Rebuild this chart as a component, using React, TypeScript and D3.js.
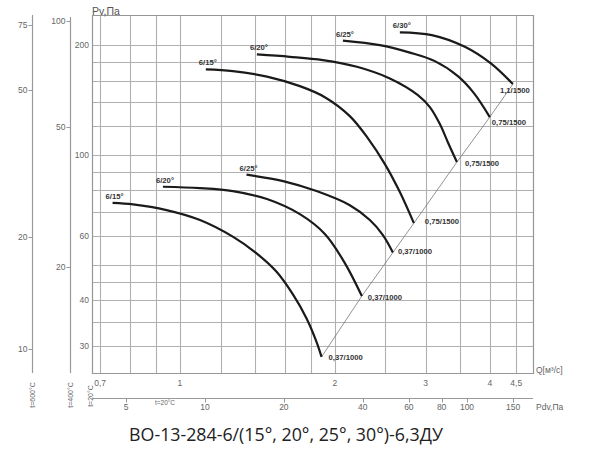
import React from 'react';
import * as d3 from 'd3';

// ---- tick values ----
const qTickLabels = [0.7, 1, 2, 3, 4, 4.5];
const qGrid = [0.7, 0.8, 0.9, 1, 1.2, 1.4, 1.6, 1.8, 2, 2.5, 3, 3.5, 4, 4.5];
const pvTickLabels = [30, 40, 60, 100, 200];
const pvGrid = [30, 35, 40, 45, 50, 60, 70, 80, 90, 100, 120, 140, 160, 180, 200];
const t600Ticks = [10, 20, 50, 75];
const t400Ticks = [20, 50, 100];
const pdvTicks = [5, 10, 20, 40, 60, 80, 100, 150];

// ---- curves: Q (m3/s) and Pv (Pa) ----
const q15_1000 = [0.74, 0.811, 0.942, 1.094, 1.269, 1.409, 1.541, 1.66, 1.762, 1.842, 1.884];
const pv15_1000 = [74.0, 73.3, 70.7, 66.4, 59.7, 53.8, 47.9, 41.4, 35.7, 30.8, 28.0];
const q20_1000 = [0.927, 1.094, 1.267, 1.476, 1.71, 1.912, 2.091, 2.256];
const pv20_1000 = [81.9, 81.2, 79.7, 75.8, 68.9, 60.8, 50.6, 41.1];
const q25_1000 = [1.347, 1.587, 1.842, 2.138, 2.338, 2.479, 2.592];
const pv25_1000 = [88.4, 84.9, 79.7, 72.9, 66.4, 60.4, 54.1];
const q15_1500 = [1.123, 1.267, 1.476, 1.71, 1.912, 2.138, 2.317, 2.501, 2.674, 2.847];
const pv15_1500 = [171.7, 169.9, 164.1, 154.5, 144.1, 127.9, 111.3, 94.5, 79.2, 65.1];
const q20_1500 = [1.411, 1.635, 1.895, 2.207, 2.557, 2.899, 3.058, 3.198, 3.314, 3.451];
const pv20_1500 = [188.7, 185.9, 182.1, 174.6, 162.2, 146.0, 135.3, 121.6, 108.5, 95.7];
const q25_1500 = [2.073, 2.445, 2.797, 3.127, 3.466, 3.724, 3.998];
const pv25_1500 = [205.9, 200.1, 190.9, 180.9, 164.6, 147.9, 127.1];
const q30_1500 = [2.674, 3.085, 3.576, 4.017, 4.433];
const pv30_1500 = [216.9, 213.2, 198.0, 178.3, 156.5];

const curveNames = ['6/15°', '6/20°', '6/25°', '6/15°', '6/20°', '6/25°', '6/30°'];
const motorLabels = ['0,37/1000', '0,37/1000', '0,37/1000', '0,75/1500', '0,75/1500', '0,75/1500', '1,1/1500'];
const curveQs = [q15_1000, q20_1000, q25_1000, q15_1500, q20_1500, q25_1500, q30_1500];
const curvePvs = [pv15_1000, pv20_1000, pv25_1000, pv15_1500, pv20_1500, pv25_1500, pv30_1500];

const titleText = 'ВО-13-284-6/(15°, 20°, 25°, 30°)-6,3ДУ';

// ---- layout / style ----
const W = 600, H = 458;
const L = 92, R = 533, T = 15, B = 373;
const endOffsets = [[7, 3], [6, 4], [5, 1], [11, 1], [8, 3.5], [2, 7.5], [-13, 9]];
const GRID = '#b0b0b0';
const FRAME = '#969696';
const AXIS = '#999999';
const TXT = '#666666';
const fmt = (v: number) => String(v).replace('.', ',');
const px = (v: number) => Math.round(v) + 0.5;

export default function App() {
  const x = d3.scaleLog().domain([0.675, 4.85]).range([L, R]);
  const y = d3.scaleLog().domain([25.3, 242]).range([B, T]);
  const y600 = d3.scaleLog().domain([8.6, 79.8]).range([B, T]);
  const y400 = d3.scaleLog().domain([10, 104]).range([B, T]);
  const xPdv = d3.scaleLog().domain([3.705, 178.6]).range([L, R]);

  const line = d3
    .line<[number, number]>()
    .x((d) => x(d[0]))
    .y((d) => y(d[1]))
    .curve(d3.curveCatmullRom.alpha(0.5));

  const series = curveQs.map((qs, i) => qs.map((q, j) => [q, curvePvs[i][j]] as [number, number]));
  const ends = series.map((s) => s[s.length - 1]).slice().sort((a, b) => a[0] - b[0]);
  const sysLine = d3
    .line<[number, number]>()
    .x((d) => x(d[0]))
    .y((d) => y(d[1]));

  const sans = 'Liberation Sans, Arial, sans-serif';
  const a600 = 32.5, a400 = 70.5;
  const pdvY = 398.5;

  return (
    <svg width={W} height={H} style={{ position: 'absolute', left: 0, top: 0, background: '#fff' }} fontFamily={sans}>
      <rect x={0} y={0} width={W} height={H} fill="#ffffff" />
      {qGrid.map((q) => (
        <line key={'gx' + q} x1={px(x(q))} x2={px(x(q))} y1={T} y2={B} stroke={GRID} strokeWidth={1.1} />
      ))}
      {pvGrid.map((p) => (
        <line key={'gy' + p} x1={L} x2={R} y1={px(y(p))} y2={px(y(p))} stroke={GRID} strokeWidth={1.1} />
      ))}
      <line x1={L + 0.5} x2={L + 0.5} y1={T} y2={B + 1} stroke={FRAME} strokeWidth={1.2} />
      <line x1={R + 0.5} x2={R + 0.5} y1={T} y2={B + 1} stroke={FRAME} strokeWidth={1.2} />
      <line x1={L} x2={R + 1} y1={T + 0.5} y2={T + 0.5} stroke={FRAME} strokeWidth={1.2} />
      <line x1={L} x2={R + 1} y1={B + 0.5} y2={B + 0.5} stroke={FRAME} strokeWidth={1.2} />

      {/* Pv labels */}
      {pvTickLabels.map((p) => (
        <text key={'pv' + p} x={89} y={y(p) + 3} fontSize={8.5} fill={TXT} textAnchor="end">
          {p}
        </text>
      ))}
      <text x={92} y={15} fontSize={10.5} fill="#555">Pv,Па</text>

      {/* Q labels */}
      {qTickLabels.map((q) => (
        <text key={'q' + q} x={x(q)} y={386} fontSize={8.5} fill={TXT} textAnchor="middle">
          {fmt(q)}
        </text>
      ))}
      <text x={536} y={373} fontSize={8.5} fill={TXT}>Q[м³/с]</text>

      {/* left axis t=600 */}
      <line x1={a600} x2={a600} y1={T} y2={B} stroke={AXIS} strokeWidth={1.2} />
      {t600Ticks.map((v) => (
        <g key={'a6' + v}>
          <line x1={a600 - 4} x2={a600} y1={px(y600(v))} y2={px(y600(v))} stroke={AXIS} />
          <text x={a600 - 5} y={y600(v) + 3} fontSize={8.5} fill={TXT} textAnchor="end">
            {v}
          </text>
        </g>
      ))}
      <text transform={`translate(${a600 + 2.5},395) rotate(-90)`} fontSize={7} fill={TXT} textAnchor="middle">
        t=600°C
      </text>

      {/* left axis t=400 */}
      <line x1={a400} x2={a400} y1={T + 2} y2={B} stroke={AXIS} strokeWidth={1.2} />
      {t400Ticks.map((v) => (
        <g key={'a4' + v}>
          <line x1={a400 - 4} x2={a400} y1={px(y400(v))} y2={px(y400(v))} stroke={AXIS} />
          <text x={a400 - 5} y={y400(v) + 3} fontSize={8.5} fill={TXT} textAnchor="end">
            {v}
          </text>
        </g>
      ))}
      <text transform={`translate(${a400 + 2},395) rotate(-90)`} fontSize={7} fill={TXT} textAnchor="middle">
        t=400°C
      </text>
      <text transform={`translate(${L + 1},396) rotate(-90)`} fontSize={7} fill={TXT} textAnchor="middle">
        t=20°C
      </text>

      {/* Pdv axis */}
      <line x1={L} x2={R} y1={pdvY} y2={pdvY} stroke={AXIS} strokeWidth={1.2} />
      {pdvTicks.map((v) => (
        <g key={'pd' + v}>
          <line x1={px(xPdv(v))} x2={px(xPdv(v))} y1={pdvY} y2={pdvY + 4} stroke={AXIS} />
          <text x={xPdv(v)} y={410} fontSize={8.5} fill={TXT} textAnchor="middle">
            {v}
          </text>
        </g>
      ))}
      <text x={536} y={410} fontSize={8.5} fill={TXT}>Pdv,Па</text>
      <text x={165} y={405} fontSize={6.5} fill={TXT} textAnchor="middle">t=20°C</text>

      {/* system line */}
      <path d={sysLine(ends) || ''} fill="none" stroke="#777" strokeWidth={0.8} />

      {/* curves */}
      {series.map((s, i) => (
        <path key={'c' + i} d={line(s) || ''} fill="none" stroke="#1a1a1a" strokeWidth={2.2} strokeLinecap="butt" />
      ))}
      {series.map((s, i) => (
        <text key={'n' + i} x={x(s[0][0]) - 7} y={y(s[0][1]) - 4} fontSize={7.7} fontWeight="bold" fill="#333">
          {curveNames[i]}
        </text>
      ))}
      {series.map((s, i) => {
        const e = s[s.length - 1];
        return (
          <text key={'m' + i} x={x(e[0]) + endOffsets[i][0]} y={y(e[1]) + endOffsets[i][1]} fontSize={7.7} fontWeight="bold" fill="#333">
            {motorLabels[i]}
          </text>
        );
      })}

      {/* title */}
      <text x={286} y={441} fontSize={17.8} fill="#222" textAnchor="middle" fontFamily="Open Sans, Noto Sans, sans-serif">
        {titleText}
      </text>
    </svg>
  );
}
